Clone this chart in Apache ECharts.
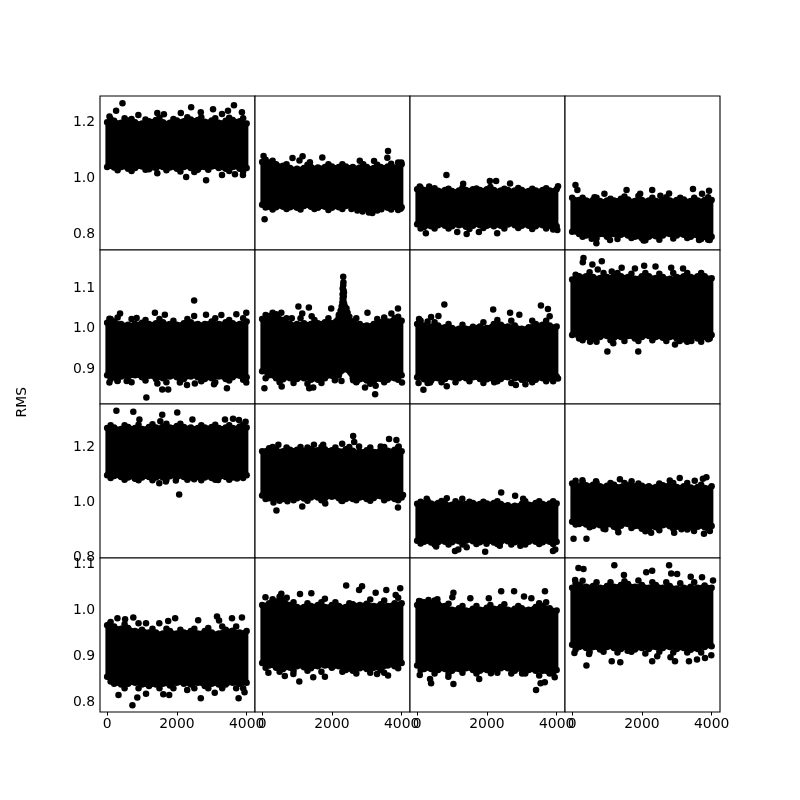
<!DOCTYPE html>
<html><head><meta charset="utf-8">
<style>html,body{margin:0;padding:0;background:#fff}#c{width:800px;height:800px}</style>
<script src="https://cdn.jsdelivr.net/npm/echarts@6/dist/echarts.min.js"></script>
</head><body><div id="c"></div>
<script>
const xEdges=[0,200,400,600,800,1000,1200,1400,1600,1800,2000,2200,2400,2600,2800,3000,3200,3400,3600,3800,4000];
const xTicks=[0,2000,4000];
const yTicksRows=[[0.8,1.0,1.2],[0.9,1.0,1.1],[0.8,1.0,1.2],[0.8,0.9,1.0,1.1]];
const yRanges=[[0.743,1.294],[0.814,1.195],[0.7995,1.355],[0.778,1.115]];
const yName="RMS";

const high1=[1.20,1.205,1.198,1.206,1.200,1.196,1.204,1.208,1.200,1.198,1.206,1.204,1.21,1.208,1.202,1.206,1.198,1.205,1.208,1.204,1.196];
const low1=[1.04,1.038,1.04,1.034,1.036,1.042,1.032,1.036,1.04,1.038,1.034,1.04,1.036,1.03,1.04,1.042,1.036,1.034,1.04,1.034,1.036];
const out1=[[440,1.268],[257,1.241],[67,1.221],[895,1.226],[1438,1.233],[1628,1.229],[2409,1.254],[2685,1.236],[3037,1.247],[3637,1.261],[3465,1.241],[3294,1.23],[3865,1.236],[2113,1.233],[1438,1.018],[2266,1.004],[2837,0.993],[3294,1.011],[3665,1.014],[3894,1.011]];
const edge1=[[100,1.212],[500,1.214],[700,1.212],[1100,1.21],[1500,1.216],[1900,1.212],[2300,1.218],[2700,1.218],[3100,1.214],[3500,1.216],[3900,1.214],[300,1.028],[700,1.026],[1100,1.03],[1700,1.028],[2100,1.024],[2500,1.022],[2900,1.03],[3500,1.026],[3900,1.024]];

const high2=[1.058,1.056,1.05,1.044,1.036,1.034,1.036,1.04,1.038,1.04,1.042,1.04,1.042,1.04,1.038,1.04,1.036,1.04,1.042,1.038,1.05];
const low2=[0.905,0.898,0.896,0.898,0.896,0.894,0.9,0.898,0.894,0.898,0.894,0.896,0.9,0.896,0.892,0.89,0.89,0.896,0.894,0.898,0.896];
const out2=[[40,1.079],[70,0.853],[870,1.072],[1160,1.078],[1070,1.063],[1370,1.057],[1725,1.074],[2800,1.062],[3210,1.061],[3610,1.097],[3590,1.073],[3990,1.056],[2560,0.89],[2730,0.884],[2880,0.881],[3060,0.877],[3160,0.875],[3420,0.889],[3970,0.891]];
const edge2=[[100,1.066],[300,1.062],[700,1.05],[1300,1.048],[1900,1.05],[2300,1.05],[2900,1.05],[3300,1.048],[3700,1.052],[3900,1.056],[300,0.888],[700,0.89],[1100,0.888],[1500,0.89],[1900,0.886],[2300,0.89],[3300,0.884],[3700,0.888],[3900,0.886],[100,0.895]];

const high3=[0.96,0.958,0.956,0.955,0.958,0.954,0.956,0.958,0.96,0.958,0.96,0.958,0.956,0.958,0.956,0.958,0.954,0.956,0.958,0.956,0.96];
const low3=[0.835,0.825,0.828,0.832,0.83,0.828,0.832,0.826,0.83,0.832,0.83,0.828,0.83,0.834,0.832,0.83,0.83,0.828,0.832,0.83,0.828];
const out3=[[840,1.011],[75,0.97],[345,0.97],[1320,0.98],[2085,0.99],[2265,0.99],[2665,0.981],[4040,0.971],[250,0.803],[1150,0.807],[1420,0.8],[1770,0.807],[2295,0.803],[4020,0.815]];
const edge3=[[100,0.966],[500,0.964],[900,0.962],[1300,0.966],[1700,0.963],[2100,0.968],[2500,0.962],[2900,0.965],[3300,0.962],[3700,0.964],[100,0.82],[500,0.82],[900,0.82],[1500,0.818],[1900,0.822],[2500,0.82],[2900,0.822],[3300,0.818],[3700,0.82],[3900,0.816]];

const high4=[0.93,0.922,0.92,0.922,0.918,0.92,0.92,0.926,0.924,0.918,0.922,0.92,0.918,0.922,0.92,0.922,0.924,0.918,0.92,0.922,0.922];
const low4=[0.808,0.8,0.795,0.793,0.8,0.79,0.8,0.798,0.795,0.79,0.785,0.79,0.792,0.795,0.8,0.795,0.798,0.79,0.795,0.79,0.79];
const out4=[[95,0.976],[150,0.958],[640,0.932],[925,0.944],[1560,0.958],[2295,0.958],[1950,0.944],[2530,0.937],[2780,0.945],[3465,0.961],[3725,0.944],[3925,0.955],[695,0.767],[560,0.783],[2050,0.777],[1085,0.779],[3945,0.779],[3640,0.779]];
const edge4=[[300,0.93],[700,0.93],[1100,0.926],[1500,0.934],[1900,0.936],[2300,0.93],[2700,0.932],[3100,0.93],[3500,0.93],[3900,0.932],[300,0.79],[700,0.785],[1300,0.782],[1700,0.786],[2100,0.778],[2500,0.78],[2900,0.784],[3300,0.786],[3700,0.782],[3900,0.78]];

const high5=[1.015,1.018,1.012,1.01,1.012,1.015,1.012,1.014,1.016,1.012,1.01,1.014,1.016,1.012,1.012,1.018,1.012,1.016,1.014,1.012,1.018];
const low5=[0.885,0.88,0.882,0.88,0.885,0.88,0.884,0.876,0.878,0.882,0.88,0.876,0.882,0.88,0.876,0.878,0.882,0.876,0.88,0.884,0.88];
const out5=[[2495,1.07],[370,1.038],[1370,1.04],[1655,1.035],[2495,1.032],[2835,1.035],[3275,1.034],[3705,1.036],[3990,1.04],[65,1.025],[845,1.027],[65,0.867],[295,0.871],[560,0.871],[1125,0.83],[1580,0.85],[1750,0.85],[1440,0.865],[2085,0.867],[2290,0.861],[3065,0.863],[3435,0.853],[3990,0.867],[2515,0.865]];
const edge5=[[100,1.024],[300,1.028],[700,1.024],[1100,1.022],[1500,1.024],[1900,1.02],[2300,1.024],[3100,1.026],[3500,1.022],[3900,1.026],[300,0.872],[700,0.868],[1100,0.872],[1700,0.868],[2100,0.872],[2700,0.87],[3100,0.868],[3500,0.872],[3900,0.874],[100,0.876]];

const high6=[1.024,1.032,1.036,1.022,1.012,1.012,1.014,1.012,1.014,1.016,1.014,1.03,1.04,1.018,1.012,1.008,1.012,1.016,1.018,1.026,1.02];
const low6=[0.895,0.885,0.878,0.875,0.878,0.876,0.878,0.874,0.874,0.878,0.884,0.885,0.9,0.878,0.875,0.872,0.87,0.876,0.874,0.878,0.885];
const out6=[[2325,1.129],[2325,1.108],[2310,1.1],[2335,1.095],[2320,1.088],[2340,1.08],[2310,1.075],[2330,1.07],[2350,1.062],[2300,1.065],[2370,1.055],[2280,1.055],[2420,1.05],[2250,1.045],[2400,1.045],[2450,1.04],[2200,1.035],[2500,1.03],[2330,1.115],[2310,1.085],[2345,1.09],[1040,1.055],[1340,1.053],[1980,1.05],[550,1.04],[65,0.853],[560,0.857],[1350,0.853],[1465,0.855],[2085,0.873],[2275,0.871],[2950,0.855],[3240,0.838],[3255,0.859],[4010,0.867],[3895,1.05],[3020,1.04],[3705,1.038],[850,1.026],[1150,1.038],[1420,1.031],[2705,0.869],[2610,0.873]];
const edge6=[[100,1.034],[300,1.04],[700,1.026],[1100,1.026],[1500,1.022],[1900,1.026],[2700,1.026],[3300,1.024],[3500,1.028],[3900,1.03],[100,0.878],[500,0.868],[900,0.866],[1300,0.864],[1700,0.866],[2100,0.875],[2700,0.868],[3100,0.864],[3500,0.868],[3900,0.874]];

const high7=[1.012,1.008,1.006,1.008,1.004,1.002,1.0,1.0,1.005,1.006,1.002,1.012,1.01,1.006,1.008,1.0,1.004,1.012,1.01,1.008,1.006];
const low7=[0.88,0.875,0.872,0.878,0.876,0.88,0.878,0.878,0.88,0.876,0.875,0.874,0.876,0.88,0.878,0.874,0.876,0.874,0.878,0.878,0.882];
const out7=[[780,1.06],[2180,1.048],[2665,1.04],[3550,1.058],[3750,1.049],[3800,1.031],[2930,1.035],[55,1.024],[400,1.029],[610,1.032],[180,0.849],[40,0.866],[370,0.867],[850,0.858],[2210,0.868],[2830,0.861],[3105,0.863],[4040,0.877]];
const edge7=[[100,1.02],[300,1.018],[500,1.016],[900,1.012],[1300,1.01],[1900,1.016],[2300,1.022],[2700,1.02],[3300,1.02],[3700,1.02],[300,0.866],[700,0.868],[1100,0.868],[1500,0.87],[1900,0.866],[2300,0.87],[2700,0.866],[3300,0.868],[3700,0.87],[3900,0.87]];

const high8=[1.122,1.13,1.13,1.128,1.126,1.128,1.13,1.13,1.128,1.124,1.13,1.13,1.126,1.128,1.124,1.128,1.13,1.128,1.13,1.13,1.125];
const low8=[0.985,0.98,0.98,0.975,0.98,0.982,0.978,0.98,0.982,0.976,0.98,0.982,0.98,0.978,0.98,0.976,0.974,0.98,0.976,0.98,0.985];
const out8=[[325,1.175],[305,1.165],[850,1.167],[580,1.159],[735,1.147],[1135,1.142],[1420,1.151],[1800,1.149],[2065,1.156],[2390,1.154],[2840,1.151],[3180,1.149],[1010,0.944],[1895,0.944],[1180,0.964],[200,0.976],[515,0.968],[2950,0.961],[3085,0.97],[3420,0.97],[3945,0.976]];
const edge8=[[100,1.134],[500,1.14],[900,1.138],[1300,1.138],[1700,1.136],[2100,1.138],[2500,1.136],[2900,1.138],[3300,1.138],[3700,1.138],[300,0.972],[700,0.968],[1100,0.972],[1500,0.97],[1900,0.97],[2300,0.972],[2700,0.97],[3300,0.968],[3700,0.968],[3900,0.974]];

const high9=[1.268,1.27,1.265,1.272,1.268,1.265,1.272,1.27,1.274,1.27,1.276,1.272,1.27,1.268,1.27,1.272,1.268,1.27,1.268,1.274,1.27];
const low9=[1.098,1.095,1.092,1.09,1.088,1.09,1.092,1.09,1.09,1.094,1.092,1.092,1.09,1.092,1.09,1.088,1.09,1.092,1.09,1.094,1.098];
const out9=[[265,1.331],[750,1.327],[925,1.299],[1580,1.316],[2010,1.324],[1525,1.293],[2445,1.299],[3380,1.299],[3610,1.302],[3780,1.297],[3970,1.291],[1495,1.069],[1685,1.075],[1970,1.079],[2065,1.029],[3180,1.081],[2495,1.084],[3725,1.086],[800,1.085],[85,1.098]];
const edge9=[[100,1.278],[500,1.278],[900,1.28],[1300,1.282],[1700,1.284],[2100,1.284],[2700,1.278],[3100,1.28],[3500,1.278],[3900,1.28],[100,1.088],[500,1.082],[900,1.08],[1300,1.08],[1700,1.082],[2300,1.082],[2700,1.08],[3100,1.082],[3500,1.082],[3900,1.088]];

const high10=[1.185,1.195,1.19,1.185,1.19,1.19,1.186,1.192,1.188,1.192,1.188,1.185,1.192,1.186,1.184,1.188,1.182,1.19,1.186,1.19,1.185];
const low10=[1.025,1.015,1.016,1.012,1.018,1.015,1.014,1.018,1.018,1.015,1.02,1.015,1.012,1.012,1.018,1.012,1.016,1.022,1.015,1.012,1.018];
const out10=[[2610,1.24],[2640,1.218],[2295,1.212],[3640,1.229],[3850,1.225],[3915,1.202],[465,1.208],[1485,1.208],[1750,1.208],[2780,1.202],[3400,1.202],[325,1.0],[410,0.971],[725,1.004],[1150,0.985],[1810,0.996],[3895,0.982],[4040,1.027],[2275,1.006]];
const edge10=[[300,1.2],[700,1.198],[1100,1.2],[1300,1.198],[1700,1.2],[2100,1.198],[2500,1.2],[3100,1.198],[3500,1.2],[3900,1.198],[100,1.012],[500,1.006],[900,1.008],[1300,1.006],[1700,1.008],[2300,1.005],[2700,1.008],[3100,1.006],[3500,1.008],[3900,1.008]];

const high11=[0.995,0.998,0.996,0.998,0.996,0.992,0.996,0.994,0.998,0.994,0.996,0.998,0.994,0.99,0.988,0.994,0.992,0.998,0.994,0.996,0.996];
const low11=[0.862,0.858,0.855,0.856,0.858,0.856,0.86,0.862,0.86,0.856,0.858,0.855,0.858,0.86,0.856,0.855,0.858,0.858,0.856,0.858,0.858];
const out11=[[2410,1.036],[2810,1.024],[3040,1.013],[275,1.013],[850,1.015],[1295,1.013],[1085,0.825],[1180,0.83],[1950,0.822],[3895,0.825],[3960,0.83],[1420,0.838],[545,0.841],[2370,0.844],[2960,0.844],[1990,0.851]];
const edge11=[[100,1.002],[300,1.006],[700,1.005],[1100,1.004],[1500,1.002],[1900,1.002],[2300,1.004],[3100,1.004],[3500,1.004],[3900,1.004],[100,0.852],[500,0.848],[900,0.848],[1300,0.848],[1700,0.85],[2300,0.85],[2700,0.848],[3100,0.848],[3500,0.85],[3900,0.85]];

const high12=[1.068,1.06,1.062,1.064,1.058,1.06,1.064,1.056,1.062,1.058,1.06,1.058,1.056,1.062,1.064,1.056,1.058,1.054,1.056,1.052,1.058];
const low12=[0.93,0.922,0.92,0.915,0.918,0.92,0.912,0.916,0.922,0.915,0.905,0.908,0.91,0.918,0.914,0.912,0.915,0.91,0.912,0.91,0.915];
const out12=[[40,0.869],[410,0.869],[295,1.08],[685,1.076],[1370,1.084],[1705,1.076],[3085,1.088],[3515,1.078],[3850,1.091],[3750,1.085],[2800,1.079],[950,0.903],[1325,0.892],[2265,0.891],[2925,0.891],[3495,0.897],[3780,0.887],[3950,0.897],[1210,0.914],[3135,0.903]];
const edge12=[[100,1.078],[300,1.072],[700,1.07],[1100,1.07],[1500,1.07],[1900,1.068],[2500,1.068],[2900,1.07],[3300,1.07],[3700,1.064],[100,0.92],[500,0.91],[900,0.905],[1300,0.905],[1700,0.908],[2100,0.896],[2500,0.9],[2900,0.905],[3300,0.902],[3900,0.905]];

const high13=[0.968,0.965,0.96,0.962,0.955,0.958,0.952,0.952,0.95,0.955,0.95,0.952,0.955,0.95,0.955,0.952,0.95,0.958,0.956,0.952,0.955];
const low13=[0.855,0.84,0.838,0.84,0.842,0.838,0.835,0.838,0.84,0.836,0.842,0.84,0.838,0.842,0.835,0.84,0.838,0.838,0.842,0.84,0.842];
const out13=[[725,0.793],[865,0.81],[325,0.815],[295,0.983],[750,0.985],[515,0.981],[1495,0.972],[1750,0.977],[1950,0.983],[2610,0.979],[3150,0.987],[3210,0.978],[3580,0.983],[3865,0.985],[65,0.97],[1115,0.972],[2685,0.808],[3770,0.808],[3085,0.82],[1610,0.817],[1780,0.815],[3940,0.821],[1115,0.818],[2295,0.826]];
const edge13=[[100,0.975],[500,0.97],[900,0.972],[1300,0.96],[1700,0.96],[2100,0.958],[2500,0.96],[2900,0.962],[3300,0.965],[3700,0.965],[100,0.845],[500,0.83],[900,0.83],[1500,0.83],[1900,0.83],[2500,0.83],[2900,0.83],[3300,0.83],[3700,0.83],[3900,0.83]];

const high14=[1.012,1.016,1.02,1.024,1.012,1.008,1.008,1.01,1.012,1.008,1.012,1.01,1.008,1.014,1.012,1.015,1.01,1.014,1.01,1.016,1.016];
const low14=[0.885,0.88,0.875,0.872,0.875,0.878,0.876,0.874,0.878,0.88,0.875,0.878,0.872,0.868,0.874,0.872,0.875,0.87,0.88,0.878,0.885];
const out14=[[2410,1.055],[2865,1.053],[2780,1.045],[3255,1.039],[3560,1.045],[3960,1.049],[3830,1.034],[95,1.029],[550,1.037],[705,1.028],[1085,1.036],[1410,1.038],[1800,1.026],[1065,0.845],[1465,0.854],[1800,0.855],[650,0.857],[180,0.864],[895,0.861],[3610,0.858],[3295,0.861],[2400,0.87]];
const edge14=[[300,1.025],[500,1.03],[900,1.018],[1300,1.016],[1700,1.018],[2100,1.018],[2500,1.016],[3100,1.024],[3500,1.022],[3900,1.028],[100,0.875],[500,0.866],[900,0.868],[1300,0.868],[1700,0.866],[2300,0.866],[2700,0.862],[3100,0.864],[3500,0.864],[3900,0.874]];

const high15=[1.012,1.018,1.016,1.015,1.01,1.002,1.005,1.0,1.004,1.002,1.006,1.004,1.008,1.002,1.004,1.005,1.002,1.008,1.01,1.005,1.0];
const low15=[0.88,0.872,0.872,0.87,0.872,0.868,0.872,0.874,0.87,0.868,0.87,0.872,0.874,0.874,0.868,0.872,0.87,0.868,0.868,0.862,0.87];
const out15=[[1040,1.039],[1010,1.029],[1525,1.027],[2410,1.042],[2780,1.042],[3065,1.031],[3275,1.027],[3665,1.042],[2055,1.027],[55,1.021],[325,1.023],[580,1.025],[75,0.859],[370,0.85],[400,0.841],[895,0.855],[1040,0.839],[1780,0.85],[3410,0.826],[3540,0.841],[3660,0.843],[3945,0.854],[2115,0.863],[3010,0.862]];
const edge15=[[100,1.02],[500,1.022],[900,1.015],[1300,1.01],[1700,1.01],[2100,1.012],[2500,1.014],[2900,1.01],[3500,1.016],[3700,1.018],[100,0.87],[500,0.862],[900,0.862],[1300,0.864],[1700,0.862],[2300,0.864],[2700,0.862],[3100,0.862],[3500,0.858],[3900,0.862]];

const high16=[1.05,1.056,1.052,1.054,1.05,1.054,1.052,1.056,1.058,1.052,1.056,1.05,1.056,1.05,1.054,1.048,1.05,1.052,1.05,1.055,1.05];
const low16=[0.925,0.92,0.918,0.92,0.915,0.92,0.918,0.916,0.92,0.915,0.918,0.916,0.92,0.918,0.92,0.916,0.918,0.914,0.916,0.92,0.922];
const out16=[[1210,1.099],[2780,1.099],[180,1.093],[325,1.091],[2840,1.081],[3010,1.08],[2125,1.084],[2295,1.087],[1485,1.078],[85,1.067],[3400,1.074],[3725,1.073],[4040,1.066],[65,0.907],[410,0.88],[1135,0.889],[1380,0.887],[2295,0.889],[2440,0.9],[2950,0.889],[3350,0.889],[3580,0.893],[3810,0.896],[3990,0.902],[2820,0.898],[485,0.905],[1590,0.912]];
const edge16=[[100,1.06],[300,1.065],[700,1.062],[1100,1.062],[1500,1.064],[1900,1.066],[2300,1.062],[2700,1.062],[3100,1.06],[3500,1.062],[100,0.915],[500,0.91],[900,0.91],[1300,0.908],[1700,0.91],[2100,0.906],[2500,0.91],[2900,0.908],[3300,0.908],[3700,0.908]];

const highs=[high1,high2,high3,high4,high5,high6,high7,high8,high9,high10,high11,high12,high13,high14,high15,high16];
const lows=[low1,low2,low3,low4,low5,low6,low7,low8,low9,low10,low11,low12,low13,low14,low15,low16];
const outs=[out1,out2,out3,out4,out5,out6,out7,out8,out9,out10,out11,out12,out13,out14,out15,out16];
const edges=[edge1,edge2,edge3,edge4,edge5,edge6,edge7,edge8,edge9,edge10,edge11,edge12,edge13,edge14,edge15,edge16];

const grid=[],xAxis=[],yAxis=[],series=[];
const fs={fontFamily:'DejaVu Sans',fontSize:13.9,color:'#000'};
highs.forEach((hi,i)=>{
  const r=Math.floor(i/4),c=i%4,lo=lows[i];
  grid.push({left:100+155*c,top:96+154*r,width:155,height:154,show:true,borderColor:'#000',borderWidth:1.1,backgroundColor:'#fff',z:1});
  xAxis.push({gridIndex:i,type:'value',min:-205,max:4240,splitLine:{show:false},axisLine:{show:false},
    axisTick:{show:r===3,length:3.5,lineStyle:{color:'#000',width:1},customValues:xTicks},
    axisLabel:{show:r===3,margin:5,...fs,customValues:xTicks,formatter:v=>String(v)}});
  yAxis.push({gridIndex:i,type:'value',min:yRanges[r][0],max:yRanges[r][1],splitLine:{show:false},axisLine:{show:false},
    axisTick:{show:true,length:3.5,lineStyle:{color:'#000',width:1},customValues:yTicksRows[r]},
    axisLabel:{show:c===0,margin:5,padding:[2,0,0,0],...fs,customValues:yTicksRows[r],formatter:v=>v.toFixed(1)}});
  const rows=xEdges.map((x,k)=>[x,lo[k],hi[k]]);
  series.push({type:'custom',xAxisIndex:i,yAxisIndex:i,silent:true,animation:false,clip:false,z:2,
    data:rows,encode:{x:0,y:[1,2]},
    renderItem:(p,api)=>{
      if(p.dataIndex!==0) return null;
      const pts=rows.map(d=>api.coord([d[0],d[2]])).concat(rows.slice().reverse().map(d=>api.coord([d[0],d[1]])));
      return {type:'polygon',shape:{points:pts},style:{fill:'#000',stroke:'#000',lineWidth:3.5,lineJoin:'round'}};
    }});
  const pts=[...rows.map(d=>[d[0],d[2]]),...rows.map(d=>[d[0],d[1]]),...edges[i],...outs[i]];
  series.push({type:'scatter',xAxisIndex:i,yAxisIndex:i,silent:true,animation:false,z:3,clip:false,
    symbol:'circle',symbolSize:6.5,itemStyle:{color:'#000',opacity:1},data:pts});
});
const chart=echarts.init(document.getElementById('c'),null,{renderer:'canvas',width:800,height:800});
chart.setOption({animation:false,backgroundColor:'#fff',grid,xAxis,yAxis,series,
  graphic:[{type:'text',left:15,top:387,rotation:Math.PI/2,silent:true,
    style:{text:yName,font:'13.9px "DejaVu Sans"',fill:'#000'}}]});
</script></body></html>
